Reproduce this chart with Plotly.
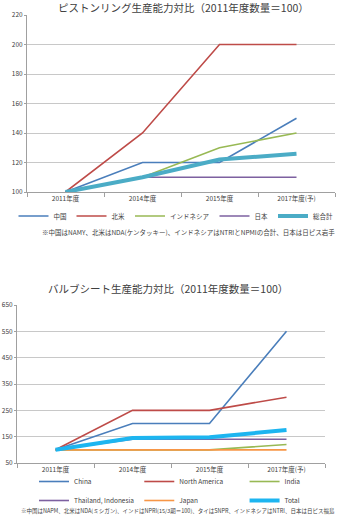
import plotly.graph_objects as go

cats_top = ["2011年度", "2014年度", "2015年度", "2017年度(予)"]
top_names = ["中国", "北米", "インドネシア", "日本", "総合計"]
top_china = [100, 120, 120, 150]
top_na = [100, 140, 200, 200]
top_indonesia = [100, 110, 130, 140]
top_japan = [100, 110, 110, 110]
top_total = [100, 110, 122, 126]

cats_bot = ["2011年度", "2014年度", "2015年度", "2017年度(予)"]
bot_names = ["China", "North America", "India", "Thailand, Indonesia", "Japan", "Total"]
bot_china = [100, 200, 200, 550]
bot_na = [100, 250, 250, 300]
bot_india = [100, 100, 100, 120]
bot_thai = [100, 140, 140, 140]
bot_japan = [100, 100, 100, 100]
bot_total = [100, 145, 148, 175]

top_ticks = [100, 120, 140, 160, 180, 200, 220]
bot_ticks = [50, 150, 250, 350, 450, 550, 650]

FONT = "Noto Sans CJK JP"
TXT = "#404040"

fig = go.Figure()
top_series = [top_china, top_na, top_indonesia, top_japan, top_total]
top_colors = ["#4A7EBB", "#BE4B48", "#98B954", "#7D60A0", "#4BACC6"]
top_widths = [1.6, 1.6, 1.6, 1.6, 4]
for n, v, c, w in zip(top_names, top_series, top_colors, top_widths):
    fig.add_trace(go.Scatter(x=cats_top, y=v, name=n, mode="lines",
                             line=dict(color=c, width=w), xaxis="x", yaxis="y",
                             legend="legend"))

bot_series = [bot_china, bot_na, bot_india, bot_thai, bot_japan, bot_total]
bot_colors = ["#4A7EBB", "#BE4B48", "#98B954", "#7D60A0", "#F79646", "#1DB5F0"]
bot_widths = [1.6, 1.6, 1.6, 1.6, 1.6, 4]
for n, v, c, w in zip(bot_names, bot_series, bot_colors, bot_widths):
    fig.add_trace(go.Scatter(x=cats_bot, y=v, name=n, mode="lines",
                             line=dict(color=c, width=w), xaxis="x2", yaxis="y2",
                             legend="legend2"))

H = 516.0
W = 337.0
axis_common = dict(showline=True, linecolor="#A0A0A0", linewidth=1,
                   automargin=False,
                   tickfont=dict(size=6.5, color=TXT, family=FONT))
grid = dict(showgrid=True, gridcolor="#C8C8C8", gridwidth=1, zeroline=False)

B0, B1 = 305, 463  # bottom plot top/bottom in px

fig.update_layout(
    width=337, height=516,
    margin=dict(l=0, r=0, t=0, b=0, autoexpand=False),
    paper_bgcolor="white", plot_bgcolor="white",
    font=dict(family=FONT, color=TXT),
    xaxis=dict(domain=[27 / W, 335 / W], anchor="y", type="category",
               range=[-0.5, 3.5], ticks="outside", tickson="boundaries",
               ticklen=4, tickcolor="#A0A0A0", showgrid=False, **axis_common),
    yaxis=dict(domain=[1 - 192 / H, 1 - 15 / H], anchor="x",
               range=[100, 220], tickvals=top_ticks, ticks="outside",
               ticklen=2, tickcolor="#A0A0A0", **grid, **axis_common),
    xaxis2=dict(domain=[17 / W, 325 / W], anchor="y2", type="category",
                range=[-0.5, 3.5], ticks="outside", tickson="boundaries",
                ticklen=4, tickcolor="#A0A0A0", showgrid=False, **axis_common),
    yaxis2=dict(domain=[1 - B1 / H, 1 - B0 / H], anchor="x2",
                range=[50, 650], tickvals=bot_ticks, ticks="outside",
                ticklen=2, tickcolor="#A0A0A0", **grid, **axis_common),
    legend=dict(orientation="h", x=176 / W, xanchor="center", y=1 - 216 / H,
                yanchor="middle", font=dict(size=6.5, color=TXT, family=FONT),
                bgcolor="rgba(0,0,0,0)", itemwidth=30),
    legend2=dict(orientation="h", x=170 / W, xanchor="center", y=1 - 491 / H,
                 yanchor="middle", font=dict(size=6.5, color=TXT, family=FONT),
                 bgcolor="rgba(0,0,0,0)", itemwidth=30, tracegroupgap=0),
    showlegend=True,
)

fig.add_annotation(text="ピストンリング生産能力対比（2011年度数量＝100）",
                   x=183 / W, y=1 - 7 / H, xref="paper", yref="paper",
                   xanchor="center", yanchor="middle", showarrow=False,
                   font=dict(size=10.5, color=TXT, family=FONT))
fig.add_annotation(text="バルブシート生産能力対比（2011年度数量＝100）",
                   x=168 / W, y=1 - 288 / H, xref="paper", yref="paper",
                   xanchor="center", yanchor="middle", showarrow=False,
                   font=dict(size=10.5, color=TXT, family=FONT))
fig.add_annotation(text="※中国はNAMY、北米はNDA(ケンタッキー)、インドネシアはNTRIとNPMIの合計、日本は日ピス岩手",
                   x=337 / W, y=1 - 232 / H, xref="paper", yref="paper",
                   xanchor="right", yanchor="middle", showarrow=False,
                   font=dict(size=6.5, color=TXT, family=FONT))
fig.add_annotation(text="※中国はNAPM、北米はNDA(ミシガン)、インドはNPRI(15/3期＝100)、タイはSNPR、インドネシアはNTRI、日本は日ピス福島",
                   x=337 / W, y=1 - 511 / H, xref="paper", yref="paper",
                   xanchor="right", yanchor="middle", showarrow=False,
                   font=dict(size=5.5, color=TXT, family=FONT))

fig.write_html("out.html")
